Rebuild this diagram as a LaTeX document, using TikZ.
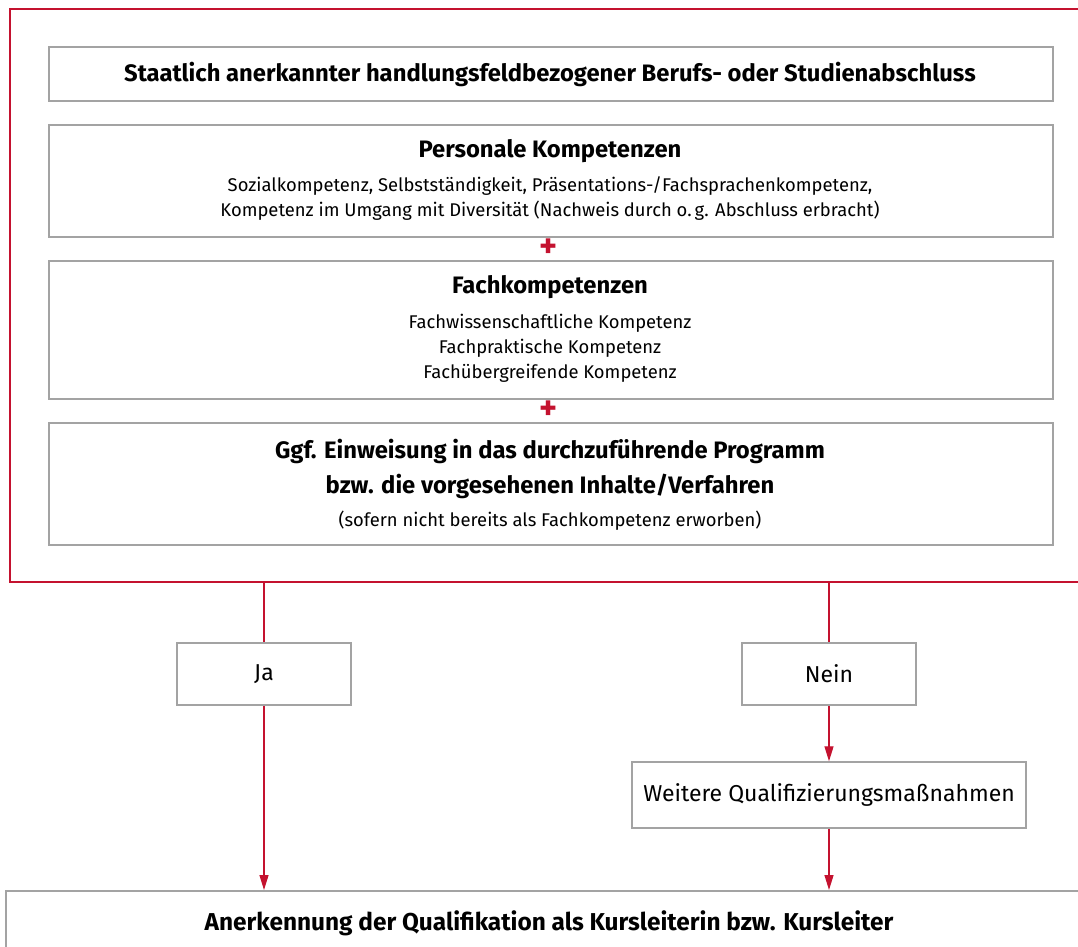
\documentclass[tikz,border=0pt]{standalone}
\usepackage{fontspec}
\setmainfont{Fira Sans}
\usetikzlibrary{arrows.meta}
\definecolor{frred}{HTML}{C4122F}
\definecolor{boxgray}{HTML}{A3A3A3}
\tikzset{
  box/.style={draw=boxgray, line width=1.5pt, fill=white, inner sep=0pt, anchor=north west},
  ttl/.style={font=\bfseries\fontsize{23.8}{26}\selectfont, inner sep=0pt},
  txt/.style={font=\fontsize{18.4}{21}\selectfont, inner sep=0pt},
  lbl/.style={font=\fontsize{23}{25}\selectfont, inner sep=0pt},
  conn/.style={draw=frred, line width=1.3pt},
  arr/.style={conn, -{Triangle[length=15pt,width=9pt]}},
  plus/.style={text=frred, font=\bfseries\fontsize{34}{34}\selectfont, inner sep=0pt}
}
\begin{document}
\begin{tikzpicture}[x=1pt,y=-1pt]
\useasboundingbox (0,0) rectangle (1078,946);
\clip (0,0) rectangle (1078,946);
% outer red frame
\draw[frred, line width=1.5pt] (1095,9) -- (10,9) -- (10,582) -- (1095,582);
\coordinate (jaTop) at (264,582);
\coordinate (neinTop) at (829,582);
% boxes
\node[box, minimum width=1004pt, minimum height=54pt] (b1) at (48,46) {};
\node[ttl] (t1) at (550,74) {Staatlich anerkannter handlungsfeldbezogener Berufs- oder Studienabschluss};
\node[box, minimum width=1004pt, minimum height=112pt] (b2) at (48,124) {};
\node[ttl] (t2) at (550,151) {Personale Kompetenzen};
\node[txt] (t2a) at (550,186) {Sozialkompetenz, Selbstständigkeit, Präsentations-/Fachsprachenkompetenz,};
\node[txt] (t2b) at (550,211) {Kompetenz im Umgang mit Diversität (Nachweis durch o.\,g. Abschluss erbracht)};
\node[plus] (p1) at (549,248) {+};
\node[box, minimum width=1004pt, minimum height=138pt] (b3) at (48,260) {};
\node[ttl] (t3) at (550,287) {Fachkompetenzen};
\node[txt] (t3a) at (550,323) {Fachwissenschaftliche Kompetenz};
\node[txt] (t3b) at (550,348) {Fachpraktische Kompetenz};
\node[txt] (t3c) at (550,373) {Fachübergreifende Kompetenz};
\node[plus] (p2) at (549,410) {+};
\node[box, minimum width=1004pt, minimum height=122pt] (b4) at (48,422) {};
\node[ttl] (t4a) at (550,451) {Ggf. Einweisung in das durchzuführende Programm};
\node[ttl] (t4b) at (550,486) {bzw. die vorgesehenen Inhalte/Verfahren};
\node[txt] (t4c) at (550,521) {(sofern nicht bereits als Fachkompetenz erworben)};
% decision boxes
\node[box, minimum width=174pt, minimum height=62pt, anchor=center, lbl] (ja) at (264,674) {Ja};
\node[box, minimum width=174pt, minimum height=62pt, anchor=center, lbl] (nein) at (829,674) {Nein};
\node[box, minimum width=394pt, minimum height=66pt, anchor=center, lbl] (weit) at (829,795) {Weitere Qualifizierungsmaßnahmen};
\node[box, minimum width=1100pt, minimum height=80pt] (end) at (5,890) {};
\node[ttl, font=\bfseries\fontsize{24.4}{26}\selectfont] (tend) at (549,923) {Anerkennung der Qualifikation als Kursleiterin bzw. Kursleiter};
% connectors
\draw[conn] (jaTop) -- (ja.north);
\draw[conn] (neinTop) -- (nein.north);
\draw[arr] (ja.south) -- (ja.south |- end.north);
\draw[arr] (nein.south) -- (weit.north);
\draw[arr] (weit.south) -- (weit.south |- end.north);
\end{tikzpicture}
\end{document}
